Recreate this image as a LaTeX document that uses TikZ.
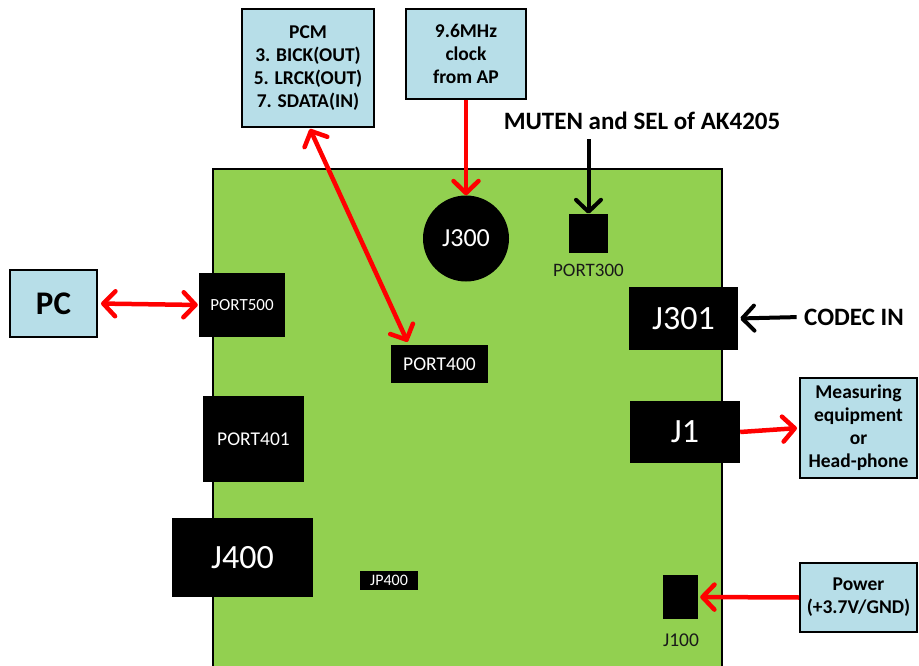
\documentclass[tikz,border=0pt]{standalone}
\usepackage{fontspec}
\setmainfont{Carlito}
\usetikzlibrary{arrows.meta}
\definecolor{board}{HTML}{92D050}
\definecolor{lblue}{HTML}{B7DEE8}
\definecolor{ared}{HTML}{FF0000}
\tikzset{
  blk/.style={fill=black, text=white, inner sep=0pt, align=center},
  infobox/.style={draw=black, line width=2pt, fill=lblue, inner sep=0pt, align=center, font=\bfseries\fontsize{19.5}{23}\selectfont},
  barb/.style={Straight Barb[length=12pt,width=25pt,round]},
  redarr/.style={draw=ared, line width=4.5pt, -{Straight Barb[length=12pt,width=25pt,round]}},
  redarr2/.style={draw=ared, line width=4.5pt, {Straight Barb[length=12pt,width=25pt,round]}-{Straight Barb[length=12pt,width=25pt,round]}},
  blkarr/.style={draw=black, line width=4pt, -{Straight Barb[length=12pt,width=25pt,round]}},
}
\begin{document}
\begin{tikzpicture}[x=1pt,y=-1pt]
\useasboundingbox (0,0) rectangle (919,666);
% board
\fill[board] (213,169) rectangle (722,680);
\draw[line width=2pt] (213,680) -- (213,169) -- (722,169) -- (722,680);
% components
\node[blk, minimum width=86, minimum height=64, font=\fontsize{17}{20}\selectfont] (p500) at (242,305) {PORT500};
\node[blk, circle, minimum size=86, font=\fontsize{26}{30}\selectfont] (j300) at (466,238.5) {J300};
\node[blk, minimum width=39, minimum height=39] (p300) at (588.5,233.5) {};
\node[font=\fontsize{19}{22}\selectfont, text=black!90] (p300l) at (588.5,270) {PORT300};
\node[blk, minimum width=109, minimum height=63, font=\fontsize{34}{38}\selectfont] (j301) at (683.5,318.5) {J301};
\node[blk, minimum width=97, minimum height=38, font=\fontsize{19.5}{22}\selectfont] (p400) at (439.5,364) {PORT400};
\node[blk, minimum width=101, minimum height=86, font=\fontsize{19.5}{22}\selectfont] (p401) at (253.5,439) {PORT401};
\node[blk, minimum width=110, minimum height=62, font=\fontsize{34}{38}\selectfont] (j1) at (685,432) {J1};
\node[blk, minimum width=141, minimum height=79, font=\fontsize{34}{38}\selectfont] (j400) at (242.5,557.5) {J400};
\node[blk, minimum width=58, minimum height=19, font=\fontsize{16}{18}\selectfont] (jp400) at (389,580.5) {JP400};
\node[blk, minimum width=35, minimum height=44] (j100) at (680.5,597) {};
\node[font=\fontsize{19.5}{22}\selectfont, text=black!90] (j100l) at (681,640) {J100};
% outside boxes
\node[infobox, minimum width=87, minimum height=67, font=\bfseries\fontsize{33}{36}\selectfont] (pc) at (53.5,303.5) {PC};
\node[infobox, minimum width=132, minimum height=118] (pcm) at (308,68) {PCM\\3. BICK(OUT)\\5. LRCK(OUT)\\7. SDATA(IN)};
\node[infobox, minimum width=120, minimum height=90] (clk) at (466,54) {9.6MHz\\clock\\from AP};
\node[infobox, minimum width=117, minimum height=100] (meas) at (858.5,428) {Measuring\\equipment\\or\\Head-phone};
\node[infobox, minimum width=117, minimum height=69] (pwr) at (858.5,597.5) {Power\\(+3.7V/GND)};
\node[font=\bfseries\fontsize{25}{28}\selectfont] (muten) at (642,121) {MUTEN and SEL of AK4205};
\node[font=\bfseries\fontsize{25}{28}\selectfont] (codec) at (854,317) {CODEC IN};
% arrows
\draw[redarr2, shorten <=3pt, shorten >=1pt] (pc.east) -- (p500.west);
\draw[redarr2] ([xshift=2pt,yshift=-1pt]pcm.south) -- ([xshift=-32pt,yshift=3pt]p400.north);
\draw[redarr] (clk.south) -- (j300.north);
\draw[blkarr] (p300.north |- muten.south) ++(0,6) -- (p300.north);
\draw[blkarr, shorten <=4pt, shorten >=2pt] (codec.west) -- (j301.east);
\draw[redarr, shorten >=2pt] (j1.east) -- (meas.west);
\draw[redarr, shorten >=2pt] (pwr.west) -- (j100.east);
\end{tikzpicture}
\end{document}
